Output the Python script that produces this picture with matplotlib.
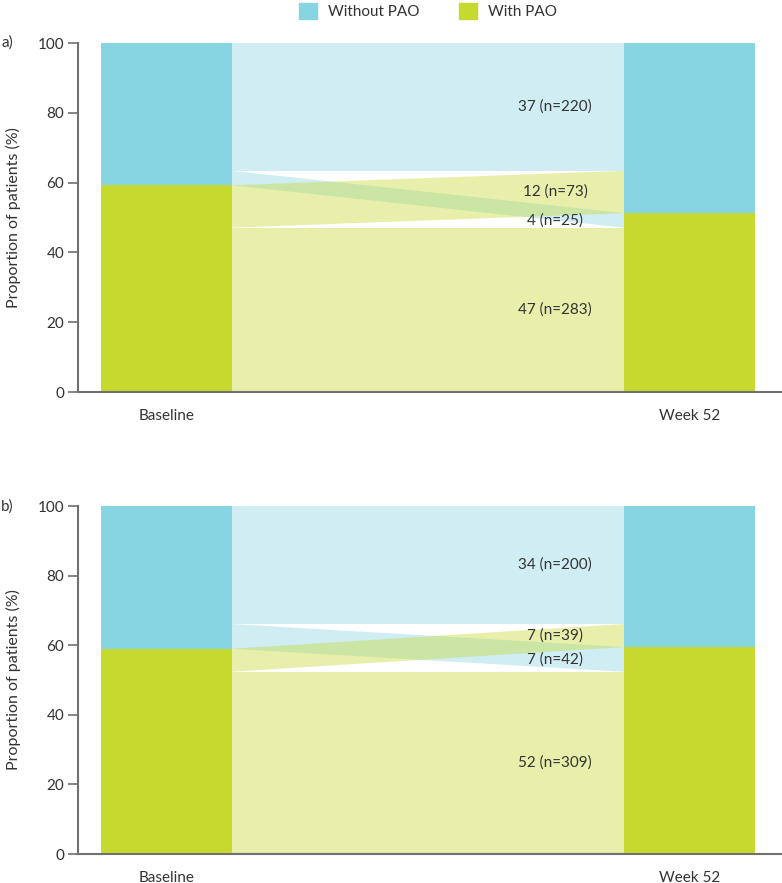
import numpy as np
import matplotlib.pyplot as plt
from matplotlib.patches import Patch

plt.rcParams['font.family'] = ['Lato', 'DejaVu Sans']

blue = '#87d4e2'
green = '#c6d92e'
text_col = '#333333'
axis_col = '#707070'

timepoints = ['Baseline', 'Week 52']
states = ['With PAO', 'Without PAO']

# patient counts per flow: (from, to)
# panel a
a_ww = 220   # without -> without
a_wo_w = 25  # without -> with
a_w_wo = 73  # with -> without
a_wiwi = 283 # with -> with
# panel b
b_ww = 200
b_wo_w = 42
b_w_wo = 39
b_wiwi = 309

a_labels = ['37 (n=220)', '4 (n=25)', '12 (n=73)', '47 (n=283)']
b_labels = ['34 (n=200)', '7 (n=42)', '7 (n=39)', '52 (n=309)']

fs = 11
bw = 0.25
x0, x1 = 0 + bw / 2, 1 - bw / 2


def flow(ax, l_lo, l_hi, r_lo, r_hi, color):
    xs = [x0, x1, x1, x0]
    ys = [l_lo, r_lo, r_hi, l_hi]
    ax.fill(xs, ys, color=color, alpha=0.4, lw=0)


def panel(ax, ww, wo_w, w_wo, wiwi, labels, tag):
    tot = ww + wo_w + w_wo + wiwi
    p_ww, p_wow, p_wwo, p_wiwi = [100 * v / tot for v in (ww, wo_w, w_wo, wiwi)]
    base_with = p_wwo + p_wiwi
    wk_with = p_wow + p_wiwi

    # bars
    ax.bar([0, 1], [base_with, wk_with], width=bw, color=green, lw=0)
    ax.bar([0, 1], [100 - base_with, 100 - wk_with], bottom=[base_with, wk_with],
           width=bw, color=blue, lw=0)

    # flows (left stacked: ww, wow, wwo, wiwi ; right stacked: ww, wwo, wow, wiwi)
    flow(ax, 100 - p_ww, 100, 100 - p_ww, 100, blue)
    flow(ax, base_with, 100 - p_ww, p_wiwi, wk_with, blue)
    flow(ax, p_wiwi, base_with, wk_with, 100 - p_ww, green)
    flow(ax, 0, p_wiwi, 0, p_wiwi, green)

    # labels at right-hand end of each flow
    mids = [100 - p_ww / 2, p_wiwi + p_wow / 2, wk_with + p_wwo / 2, p_wiwi / 2]
    for m, lab in zip(mids, labels):
        ax.text(0.743, m, lab, ha='center', va='center', fontsize=fs, color=text_col)

    ax.set_xlim(-0.169, 1.177)
    ax.set_ylim(0, 100)
    ax.set_yticks([0, 20, 40, 60, 80, 100])
    ax.set_xticks([0, 1])
    ax.set_xticklabels(timepoints)
    ax.tick_params(axis='x', length=0, pad=12, labelsize=fs, colors=text_col)
    ax.tick_params(axis='y', length=7, width=1.2, color=axis_col, labelsize=fs,
                   labelcolor=text_col, pad=3)
    for s in ['top', 'right']:
        ax.spines[s].set_visible(False)
    for s in ['left', 'bottom']:
        ax.spines[s].set_color(axis_col)
        ax.spines[s].set_linewidth(1.5)
    ax.set_ylabel('Proportion of patients (%)', fontsize=11.5, color=text_col, labelpad=12)
    ax.text(-0.109, 100, tag, transform=ax.get_yaxis_transform(), ha='left', va='center',
            fontsize=fs, color=text_col)


fig = plt.figure(figsize=(7.82, 8.83), dpi=100)
ax_a = fig.add_axes([0.0997, 0.556, 0.9003, 0.3953])
ax_b = fig.add_axes([0.0997, 0.0328, 0.9003, 0.3941])

panel(ax_a, a_ww, a_wo_w, a_w_wo, a_wiwi, a_labels, 'a)')
panel(ax_b, b_ww, b_wo_w, b_w_wo, b_wiwi, b_labels, 'b)')

handles = [Patch(color=blue, label='Without PAO'), Patch(color=green, label='With PAO')]
fig.legend(handles=handles, loc='upper center', bbox_to_anchor=(0.547, 1.012), ncol=2,
           frameon=False, fontsize=fs, handlelength=1.2, handleheight=1.2,
           columnspacing=2.6, handletextpad=0.7, labelcolor=text_col)

fig.savefig('out.png', dpi=100)
